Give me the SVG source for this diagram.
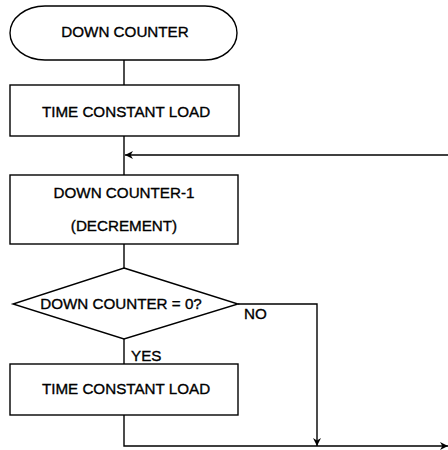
<svg xmlns="http://www.w3.org/2000/svg" width="448" height="450" viewBox="0 0 448 450">
<style>
.s{fill:#fff;stroke:#000;stroke-width:1.4}
.c{fill:none;stroke:#000;stroke-width:1.4}
text{font-family:"Liberation Sans",Arial,sans-serif;font-size:15.2px;fill:#000;stroke:#000;stroke-width:0.35}
.m{text-anchor:middle}
</style>
<defs>
<marker id="ah" viewBox="0 0 10 10" refX="10" refY="5" markerWidth="11" markerHeight="8" markerUnits="userSpaceOnUse" orient="auto">
<path d="M0,0 L10,5 L0,10 L3,5 Z" fill="#000"/>
</marker>
</defs>
<rect width="448" height="450" fill="#fff"/>
<g id="connectors">
<line class="c" x1="124" y1="60" x2="124" y2="85"/>
<line class="c" x1="124" y1="136" x2="124" y2="175"/>
<line class="c" x1="448" y1="155" x2="125" y2="155" marker-end="url(#ah)"/>
<line class="c" x1="124" y1="244" x2="124" y2="268"/>
<polyline class="c" points="238,304 317,304 317,446" marker-end="url(#ah)"/>
<line class="c" x1="124" y1="339" x2="124" y2="364"/>
<polyline class="c" points="124,415 124,446 448,446" marker-end="url(#ah)"/>
</g>
<g id="start">
<path class="s" d="M45,6 H205 A32,27 0 0 1 205,60 H45 A35,27 0 0 1 45,6 Z"/>
<text class="m" x="125" y="37">DOWN COUNTER</text>
</g>
<g id="load1">
<rect class="s" x="10" y="85" width="229" height="51"/>
<text class="m" x="126" y="117">TIME CONSTANT LOAD</text>
</g>
<g id="decrement">
<rect class="s" x="10" y="175" width="228" height="69"/>
<text class="m" x="124" y="198">DOWN COUNTER-1</text>
<text class="m" x="124" y="231">(DECREMENT)</text>
</g>
<g id="decision">
<polygon class="s" points="124,268 238,304 124,339 13,304"/>
<text class="m" x="121" y="309">DOWN COUNTER = 0?</text>
<text x="244" y="319">NO</text>
<text x="131" y="361">YES</text>
</g>
<g id="load2">
<rect class="s" x="10" y="364" width="228" height="51"/>
<text class="m" x="126" y="394">TIME CONSTANT LOAD</text>
</g>
</svg>
